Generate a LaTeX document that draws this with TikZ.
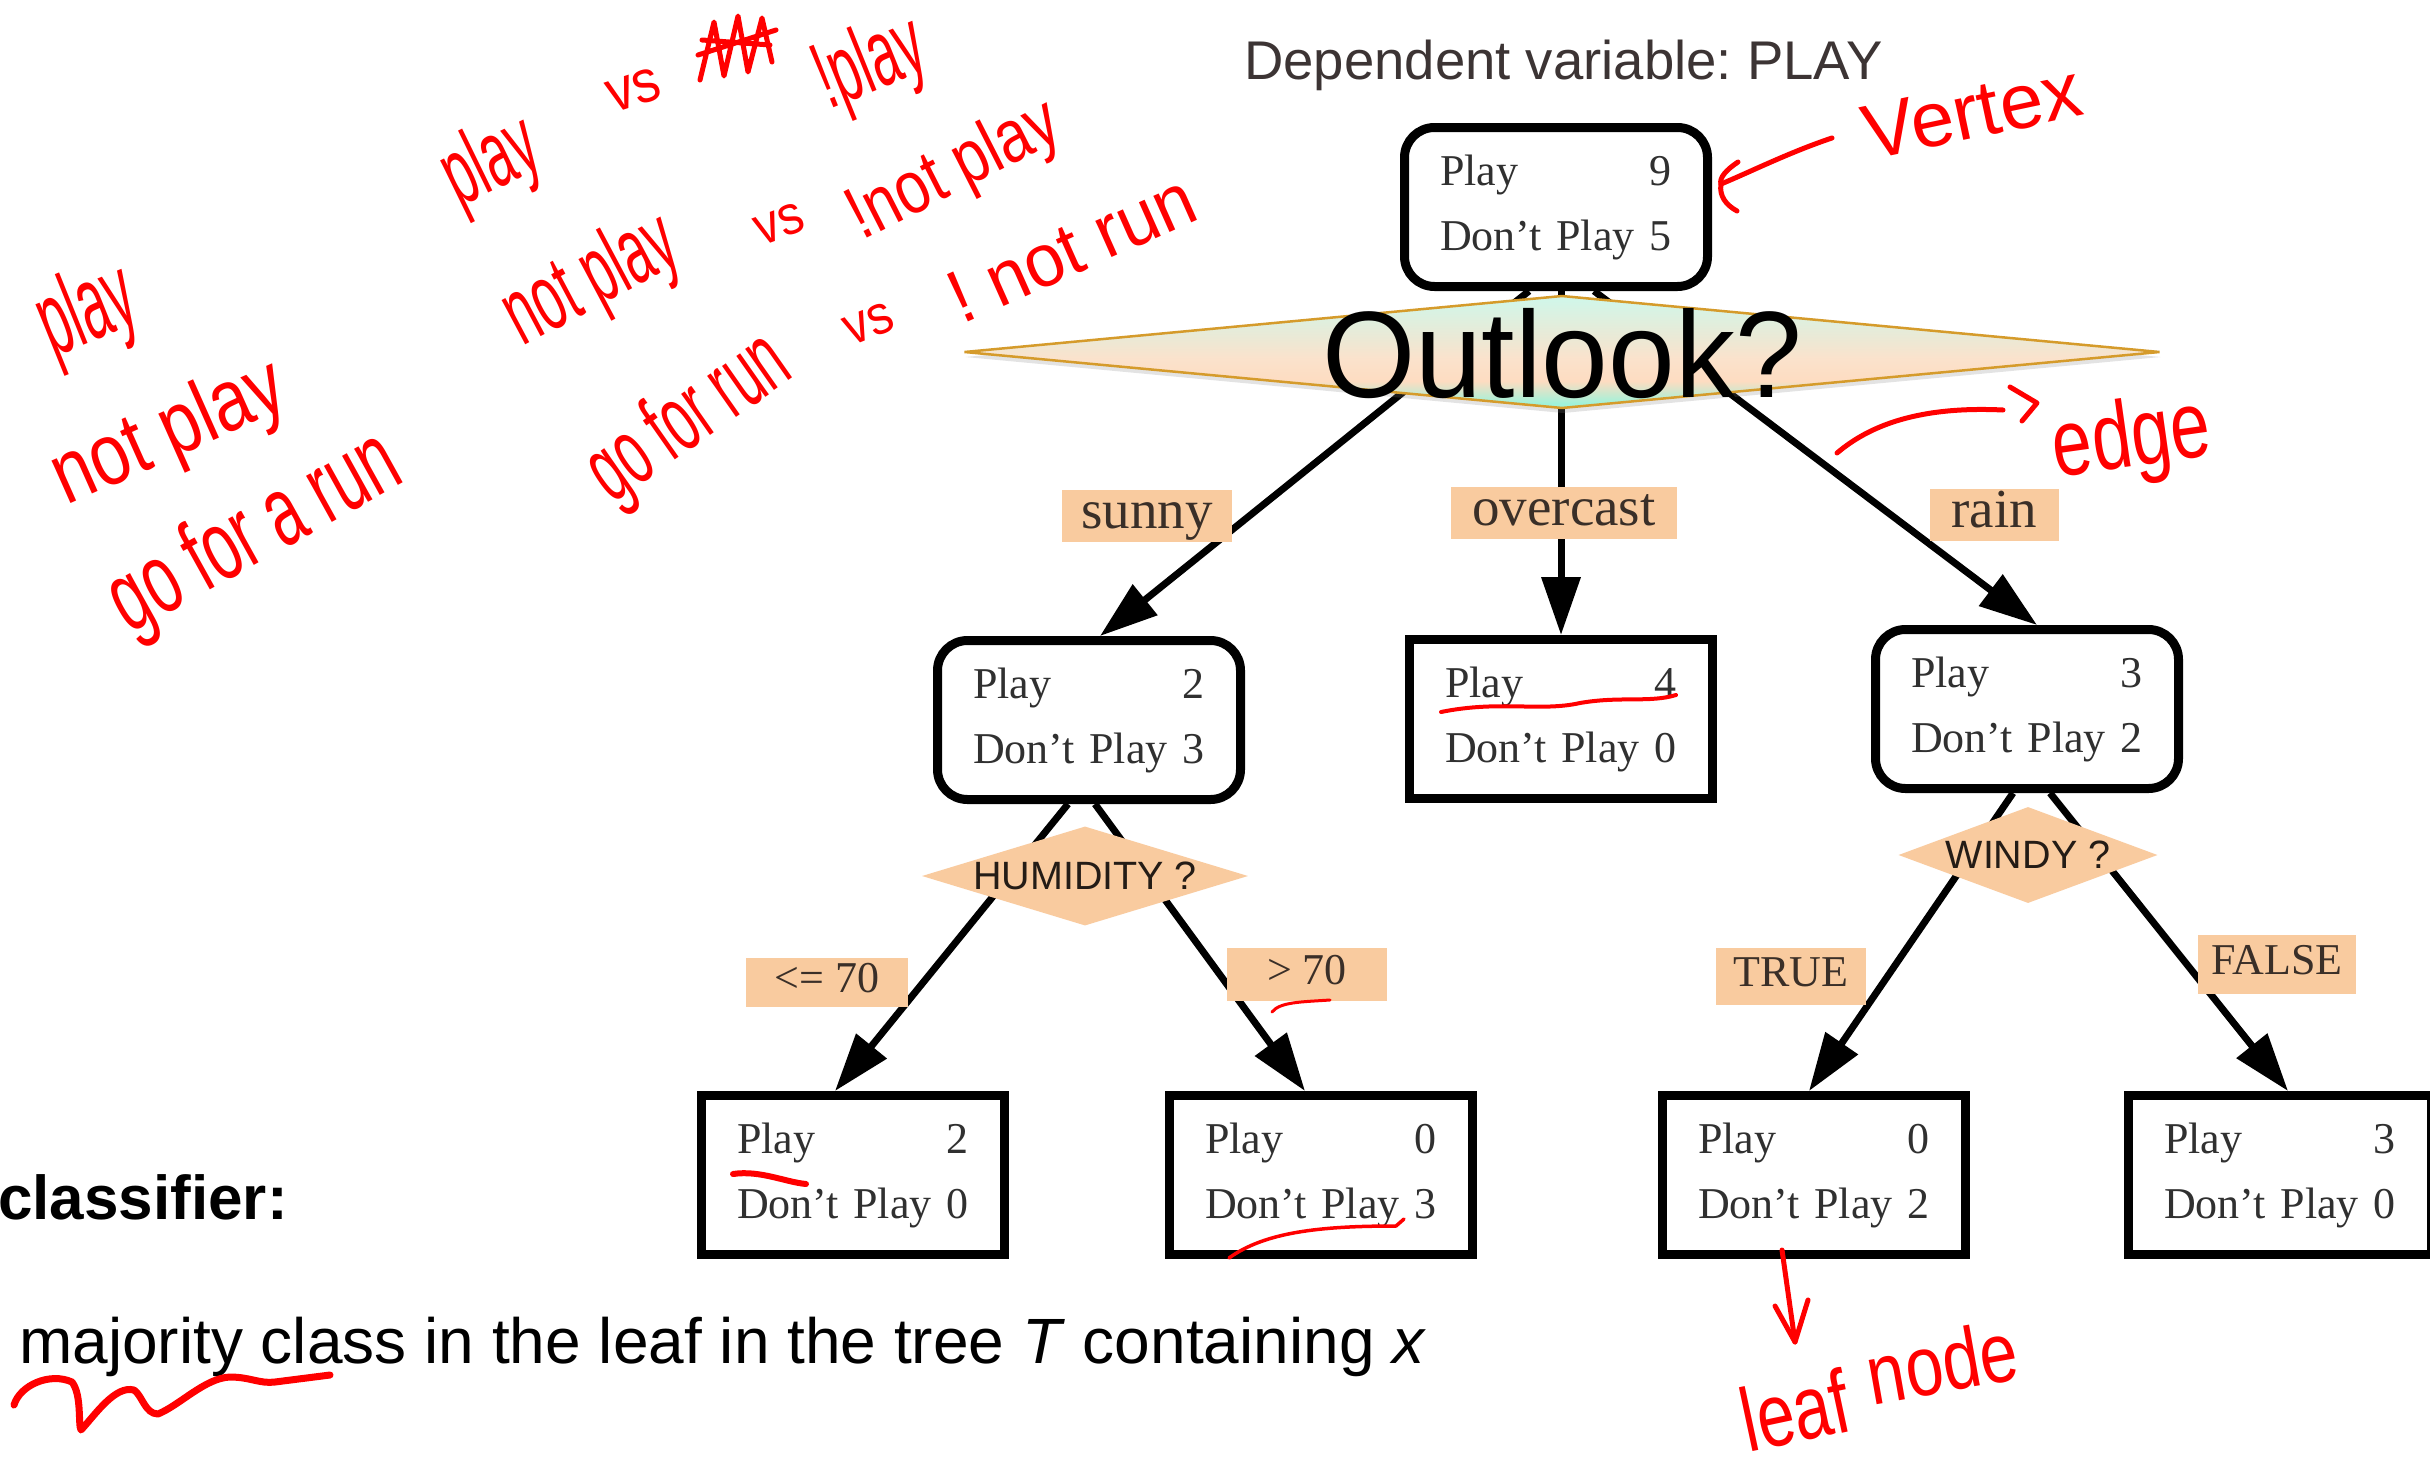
\documentclass[tikz,border=0pt]{standalone}
\usepackage{fontspec}
\setmainfont{Liberation Serif}
\setsansfont{Liberation Sans}
\newfontfamily\inkfont{Liberation Sans}
\usetikzlibrary{shapes.geometric,arrows.meta,shadows,calc}
\frenchspacing

\definecolor{peach}{HTML}{F9CB9F}
\definecolor{labelink}{HTML}{3A2F28}
\definecolor{nodeink}{HTML}{303030}
\definecolor{titleink}{HTML}{3C3434}
\definecolor{splitink}{HTML}{241C16}
\definecolor{gold}{HTML}{D59B2B}
\definecolor{mintT}{HTML}{D2F6E8}
\definecolor{creamC}{HTML}{EDE8D4}
\definecolor{peachC}{HTML}{FDDCC1}
\definecolor{peachD}{HTML}{FBE2CC}
\definecolor{aquaB}{HTML}{9FF2DA}
\definecolor{inkred}{HTML}{FF0000}

% vertical fill of the Outlook split: aqua at the bottom, peach and cream in the middle, mint at the top
\pgfdeclareverticalshading{outlookshade}{100bp}{color(0bp)=(aquaB); color(27bp)=(aquaB); color(37bp)=(peachC); color(47bp)=(peachD); color(55bp)=(creamC); color(73bp)=(mintT); color(100bp)=(mintT)}

\begin{document}
\begin{tikzpicture}[x=1pt,y=-1pt,
  countbox/.style={draw=black, line width=9pt, minimum width=303pt, minimum height=159pt,
    inner sep=0pt, text width=232pt, align=left, text=nodeink,
    font=\fontsize{44}{65}\selectfont},
  roundbox/.style={countbox, rounded corners=30pt},
  flowedge/.style={draw=black, line width=7pt, -{Triangle[length=58pt,width=38pt]}},
  biglabel/.style={fill=peach, inner sep=0pt, text=labelink, text height=36pt, text depth=12pt,
    font=\fontsize{55}{55}\selectfont},
  smalllabel/.style={fill=peach, inner sep=0pt, text=labelink, text height=30pt, text depth=10pt,
    font=\fontsize{44}{44}\selectfont},
  splitdiamond/.style={diamond, fill=peach, inner sep=0pt},
  splittext/.style={font=\sffamily\fontsize{39.5}{40}\selectfont, text=splitink, inner sep=0pt},
  ink/.style={text=inkred, inner sep=0pt, font=\inkfont\fontsize{#1}{#1}\selectfont},
  inkline/.style={draw=inkred, line width=5pt, line cap=round, line join=round},
]
\useasboundingbox (0,0) rectangle (2430,1464);
\fill[white] (0,0) rectangle (2430,1464);

% title
\node[anchor=base west, inner sep=0pt, text=titleink,
  font=\sffamily\fontsize{54.5}{55}\selectfont] (title) at (1244,79) {Dependent variable: PLAY};

% count boxes
\node[roundbox] (root)   at (1556,207) {Play\hfill 9\\Don't Play\hfill 5};
\node[roundbox] (sunnyN) at (1089,720) {Play\hfill 2\\Don't Play\hfill 3};
\node[countbox] (overN)  at (1561,719) {Play\hfill 4\\Don't Play\hfill 0};
\node[roundbox] (rainN)  at (2027,709) {Play\hfill 3\\Don't Play\hfill 2};
\node[countbox] (leafA)  at (853,1175) {Play\hfill 2\\Don't Play\hfill 0};
\node[countbox] (leafB)  at (1321,1175) {Play\hfill 0\\Don't Play\hfill 3};
\node[countbox] (leafC)  at (1814,1175) {Play\hfill 0\\Don't Play\hfill 2};
\node[countbox] (leafD)  at (2280,1175) {Play\hfill 3\\Don't Play\hfill 0};

% branches
\draw[flowedge] ([xshift=-27pt]root.south) -- ([xshift=11pt]sunnyN.north);
\draw[flowedge] (root.south -| overN.north) -- (overN.north);
\draw[flowedge] ([xshift=38pt]root.south) -- ([xshift=10pt]rainN.north);
\draw[flowedge] ([xshift=-21pt]sunnyN.south) -- ([xshift=-18pt]leafA.north);
\draw[flowedge] ([xshift=6pt]sunnyN.south) -- ([xshift=-16pt]leafB.north);
\draw[flowedge] ([xshift=-14pt]rainN.south) -- ([xshift=-5pt]leafC.north);
\draw[flowedge] ([xshift=23pt]rainN.south) -- ([xshift=8pt]leafD.north);

% branch labels
\node[biglabel, minimum width=170pt, minimum height=52pt] (lSunny) at (1147,516) {sunny};
\node[biglabel, minimum width=226pt, minimum height=52pt] (lOver)  at (1564,513) {overcast};
\node[biglabel, minimum width=129pt, minimum height=52pt] (lRain)  at (1994,515) {rain};
\node[smalllabel, minimum width=162pt, minimum height=49pt] (lLow)  at (827,982) {<= 70};
\node[smalllabel, minimum width=160pt, minimum height=53pt] (lHigh) at (1307,974) {> 70};
\node[smalllabel, minimum width=150pt, minimum height=57pt] (lTrue) at (1791,976) {TRUE};
\node[smalllabel, minimum width=158pt, minimum height=59pt] (lFalse) at (2277,964) {FALSE};

% split questions
\node[diamond, draw=gold, line width=2.5pt, shade, shading=outlookshade, inner sep=0pt,
  minimum width=1196pt, minimum height=113pt,
  drop shadow={opacity=0.22, shadow xshift=1pt, shadow yshift=-5pt}] (outlookD) at (1562,352) {};
\node[inner sep=0pt, font=\sffamily\fontsize{123}{123}\selectfont, xscale=0.975] (outlookT) at (1562,354) {Outlook?};
\node[splitdiamond, minimum width=326pt, minimum height=99pt] (humD) at (1085,876) {};
\node[splittext] (humT) at (1085,876) {HUMIDITY ?};
\node[splitdiamond, minimum width=259pt, minimum height=96pt] (windD) at (2028,855) {};
\node[splittext] (windT) at (2028,855) {WINDY ?};

% classifier rule
\node[anchor=base west, inner sep=0pt, font=\sffamily\bfseries\fontsize{62}{62}\selectfont] (clf) at (-2,1219) {classifier:};
\node[anchor=base west, inner sep=0pt, font=\sffamily\fontsize{64}{64}\selectfont] (rule) at (19,1363)
  {majority class in the leaf in the tree \textit{T} containing \textit{x}};

% handwritten notes
\node[ink=105, rotate=22, xscale=0.5] (n1) at (88,314) {play};
\node[ink=88, rotate=24, xscale=0.8] (n2) at (170,435) {not play};
\node[ink=100, rotate=29, xscale=0.62] (n3) at (256,535) {go for a run};
\node[ink=95, rotate=26, xscale=0.55] (n4a) at (492,164) {play};
\node[ink=60, rotate=18, xscale=0.9] (n4b) at (634,90) {vs};
\node[ink=95, rotate=22, xscale=0.55] (n4c) at (871,66) {!play};
\draw[inkline] (700,80) -- (714,22) -- (724,76) -- (738,16) -- (748,72) -- (762,18) -- (772,62)
  (698,55) -- (776,30) (702,40) -- (770,45);
\node[ink=95, rotate=28, xscale=0.55] (n5a) at (592,282) {not play};
\node[ink=55, rotate=20, xscale=0.9] (n5b) at (780,224) {vs};
\node[ink=75, rotate=27, xscale=0.8] (n5c) at (955,172) {!not play};
\node[ink=95, rotate=35, xscale=0.55] (n6a) at (690,420) {go for run};
\node[ink=55, rotate=22, xscale=0.9] (n6b) at (869,324) {vs};
\node[ink=75, rotate=24, xscale=0.95] (n6c) at (1072,248) {! not run};

% note: vertex
\node[ink=78, rotate=12] (vtx) at (1972,112) {Vertex};
\coordinate (vA) at (1832,138);
\coordinate (vB) at (1721,184);
\draw[inkline] (vA) .. controls (1790,152) and (1750,172) .. (vB);
\draw[inkline] (1738,162) .. controls (1726,170) and (1719,178) .. (vB)
  .. controls (1719,196) and (1726,205) .. (1737,211);

% note: edge
\node[ink=95, rotate=8, xscale=0.75] (edg) at (2132,442) {edge};
\coordinate (eA) at (1837,453);
\coordinate (eB) at (2003,410);
\draw[inkline] (eA) .. controls (1870,425) and (1920,406) .. (eB);
\draw[inkline] (2010,387) -- (2037,403) -- (2022,421);

% note: leaf node
\node[ink=90, rotate=12, xscale=0.75] (lf1) at (1795,1410) {leaf};
\node[ink=85, rotate=10, xscale=0.8] (lf2) at (1942,1362) {node};
\coordinate (fA) at (1782,1250);
\coordinate (fB) at (1795,1342);
\draw[inkline] (fA) -- (fB);
\draw[inkline] (1775,1306) -- (fB) -- (1808,1300);

% underlines
\draw[inkline, line width=4pt] (1441,712) .. controls (1500,700) and (1540,712) .. (1580,703)
  .. controls (1620,696) and (1650,703) .. (1676,695);
\draw[inkline, line width=6pt] (733,1174) .. controls (760,1170) and (785,1182) .. (806,1184);
\draw[inkline, line width=3pt] (1272,1012) .. controls (1280,1002) and (1300,1002) .. (1330,1000);
\draw[inkline, line width=3.5pt] (1229,1258) .. controls (1265,1232) and (1320,1226) .. (1396,1226) -- (1404,1219);
\draw[inkline, line width=7pt] (14,1405) .. controls (20,1385) and (50,1372) .. (72,1382)
  .. controls (82,1395) and (78,1425) .. (81,1430)
  .. controls (95,1415) and (115,1385) .. (134,1390)
  .. controls (142,1395) and (145,1414) .. (158,1414)
  .. controls (180,1405) and (205,1378) .. (230,1377)
  .. controls (250,1377) and (260,1384) .. (275,1382) -- (330,1375);
\end{tikzpicture}
\end{document}
